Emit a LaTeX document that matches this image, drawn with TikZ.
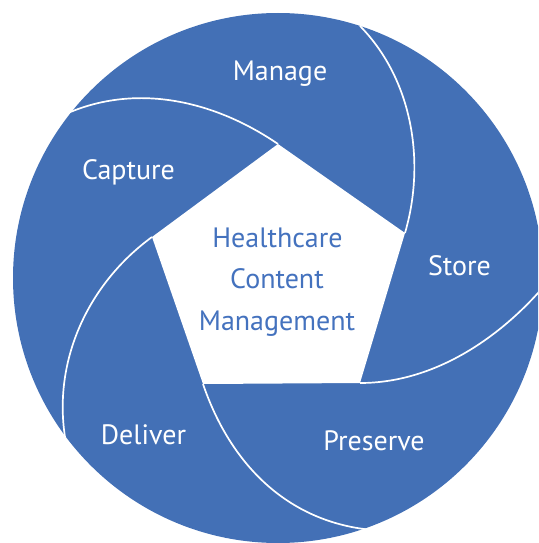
\documentclass[tikz,border=0pt]{standalone}
\usepackage{fontspec}
\setmainfont{PT Sans}
\definecolor{bladeblue}{RGB}{67,112,182}
\definecolor{titleblue}{RGB}{68,114,190}
\begin{document}
\begin{tikzpicture}[x=1pt,y=-1pt,
  seam/.style={draw=white,line width=1.7pt},
  stagelabel/.style={text=white,font=\fontsize{28}{32}\selectfont,anchor=base,inner sep=0pt},
  centrelabel/.style={text=titleblue,font=\fontsize{28}{32}\selectfont,anchor=base,inner sep=0pt}]
\useasboundingbox (0,0) rectangle (538,543);
\clip (0,0) rectangle (538,543);
% outer disc
\fill[bladeblue] (278,278) circle[radius=265pt];
% pentagon vertices
\coordinate (vT) at (278,144);
\coordinate (vR) at (405,233);
\coordinate (vBR) at (360,383);
\coordinate (vBL) at (203,384);
\coordinate (vL) at (152,237);
% rim points where the seams end
\coordinate (eT) at (68,113);
\coordinate (eR) at (360,26);
\coordinate (eBR) at (545,285);
\coordinate (eBL) at (373,530);
\coordinate (eL) at (65,437);
\fill[white] (vT) -- (vR) -- (vBR) -- (vBL) -- (vL) -- cycle;
% seams between blades
\draw[seam] (vT) .. controls (215,101) and (138,83) .. (eT);
\draw[seam] (vR) .. controls (426,161) and (412,79) .. (eR);
\draw[seam] (vBR) .. controls (440,383) and (506,331) .. (eBR);
\draw[seam] (vBL) .. controls (232,469) and (292,523) .. (eBL);
\draw[seam] (vL) .. controls (89,283) and (53,359) .. (eL);
% labels
\node[stagelabel] (manage) at (280,80) {Manage};
\node[stagelabel] (capture) at (128.5,179) {Capture};
\node[stagelabel] (store) at (459.5,275) {Store};
\node[stagelabel] (deliver) at (143.5,444) {Deliver};
\node[stagelabel] (preserve) at (374,450) {Preserve};
\node[centrelabel] (hc1) at (277.5,247) {Healthcare};
\node[centrelabel] (hc2) at (277,288.5) {Content};
\node[centrelabel] (hc3) at (277,330.5) {Management};
\end{tikzpicture}
\end{document}
